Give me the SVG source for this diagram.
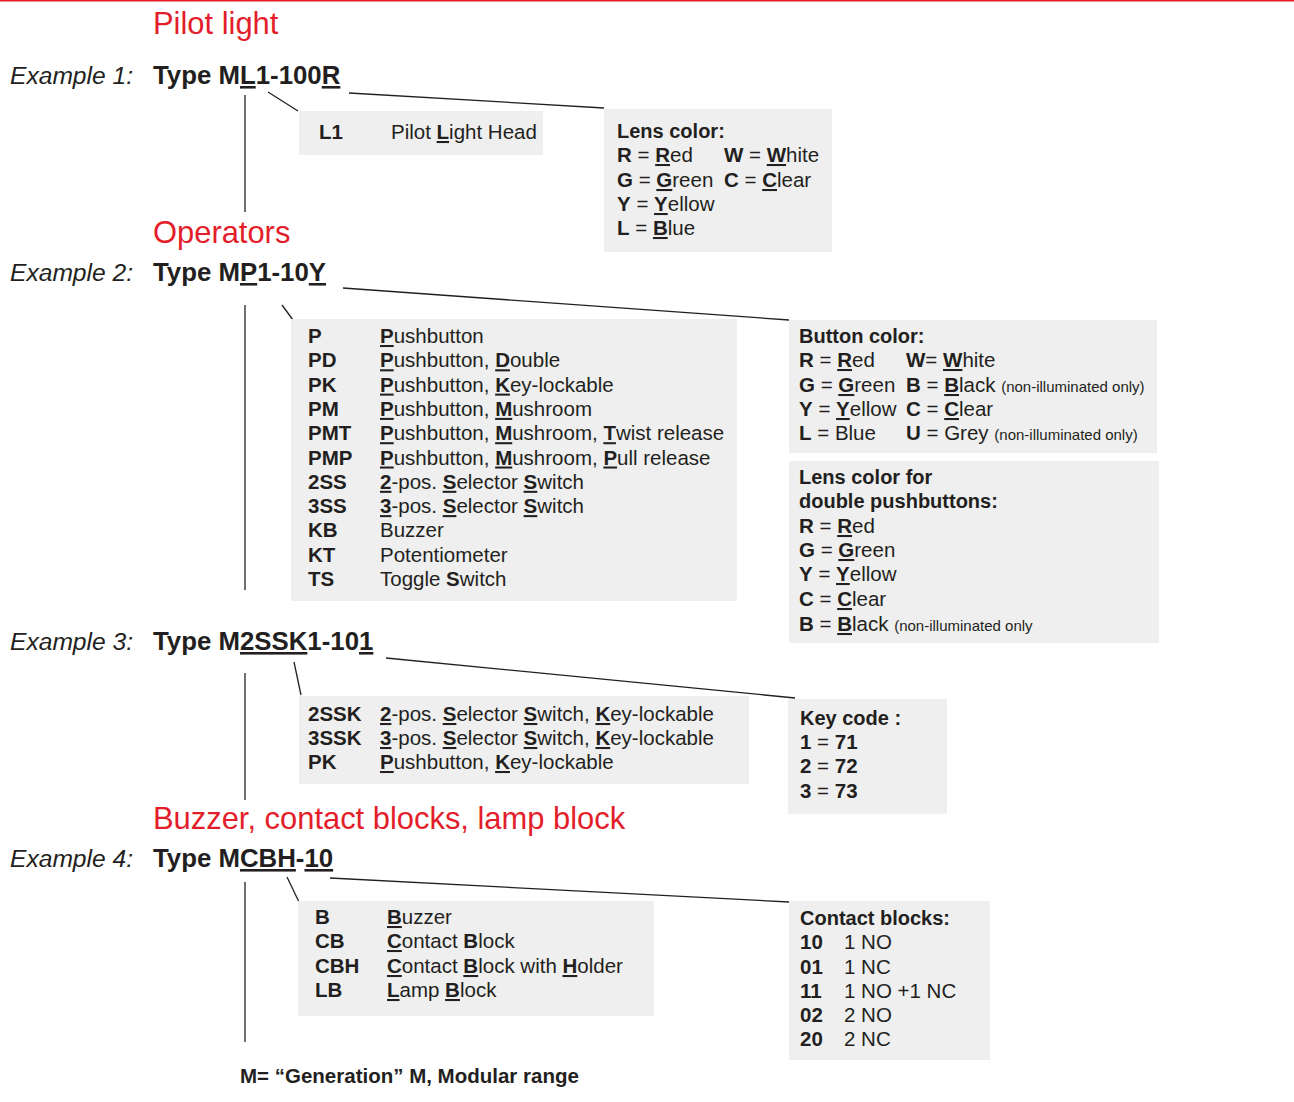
<svg xmlns="http://www.w3.org/2000/svg" width="1294" height="1102" viewBox="0 0 1294 1102">
<style>
text{font-family:"Liberation Sans",Arial,sans-serif;fill:#231f20}
.h{font-size:30.9px;fill:#e31e2a}
.ex{font-size:24.6px;font-style:italic}
.ty{font-size:25.8px;font-weight:bold}
.t{font-size:20.5px}
.f{font-size:20px;font-weight:bold}
.b{font-weight:bold}
.u{font-weight:bold;text-decoration:underline}
.uu{text-decoration:underline}
.s{font-size:15px;font-weight:normal}
.box{fill:#efefef}
.ln{stroke:#231f20;stroke-width:1.3;fill:none}
</style>
<rect x="0" y="0" width="1294" height="1.5" fill="#e31e2a"/>

<g id="connectors">
<line class="ln" x1="245" y1="95" x2="245" y2="212"/>
<line class="ln" x1="268" y1="92" x2="298" y2="111"/>
<polyline class="ln" points="349,93 604,108"/>
<line class="ln" x1="245" y1="305" x2="245" y2="590"/>
<line class="ln" x1="282" y1="305" x2="293" y2="320"/>
<line class="ln" x1="343" y1="288" x2="789" y2="320"/>
<line class="ln" x1="245" y1="673" x2="245" y2="800"/>
<line class="ln" x1="294" y1="662" x2="301" y2="695"/>
<line class="ln" x1="386" y1="658" x2="795" y2="698"/>
<line class="ln" x1="245" y1="882" x2="245" y2="1042"/>
<line class="ln" x1="287" y1="877" x2="299" y2="902"/>
<line class="ln" x1="330" y1="878" x2="789" y2="902"/>
</g>

<g id="pilot-light">
<text class="h" x="153" y="34">Pilot light</text>
<text class="ex" x="10" y="84">Example 1:</text>
<text class="ty" x="153" y="84">Type M<tspan class="uu">L</tspan>1-100<tspan class="uu">R</tspan></text>
</g>

<g id="pilot-light-head">
<rect class="box" x="299" y="111" width="244" height="44"/>
<text class="t" x="319" y="139"><tspan class="b">L1</tspan><tspan x="391">Pilot </tspan><tspan class="u">L</tspan>ight Head</text>
</g>

<g id="lens-color">
<rect class="box" x="604" y="109" width="228" height="143"/>
<text class="f" x="617" y="138">Lens color:</text>
<text class="t" x="617" y="162"><tspan class="b">R</tspan> = <tspan class="u">R</tspan>ed<tspan x="724" class="b">W</tspan> = <tspan class="u">W</tspan>hite</text>
<text class="t" x="617" y="187"><tspan class="b">G</tspan> = <tspan class="u">G</tspan>reen<tspan x="724" class="b">C</tspan> = <tspan class="u">C</tspan>lear</text>
<text class="t" x="617" y="211"><tspan class="b">Y</tspan> = <tspan class="u">Y</tspan>ellow</text>
<text class="t" x="617" y="235"><tspan class="b">L</tspan> = <tspan class="u">B</tspan>lue</text>
</g>

<g id="operators">
<text class="h" x="153" y="243">Operators</text>
<text class="ex" x="10" y="281">Example 2:</text>
<text class="ty" x="153" y="281">Type M<tspan class="uu">P</tspan>1-10<tspan class="uu">Y</tspan></text>
</g>

<g id="operator-types">
<rect class="box" x="291" y="319" width="446" height="282"/>
<text class="t" x="308" y="343"><tspan class="b">P</tspan><tspan x="380" class="u">P</tspan>ushbutton</text>
<text class="t" x="308" y="367.3"><tspan class="b">PD</tspan><tspan x="380" class="u">P</tspan>ushbutton, <tspan class="u">D</tspan>ouble</text>
<text class="t" x="308" y="391.6"><tspan class="b">PK</tspan><tspan x="380" class="u">P</tspan>ushbutton, <tspan class="u">K</tspan>ey-lockable</text>
<text class="t" x="308" y="415.9"><tspan class="b">PM</tspan><tspan x="380" class="u">P</tspan>ushbutton, <tspan class="u">M</tspan>ushroom</text>
<text class="t" x="308" y="440.2"><tspan class="b">PMT</tspan><tspan x="380" class="u">P</tspan>ushbutton, <tspan class="u">M</tspan>ushroom, <tspan class="u">T</tspan>wist release</text>
<text class="t" x="308" y="464.5"><tspan class="b">PMP</tspan><tspan x="380" class="u">P</tspan>ushbutton, <tspan class="u">M</tspan>ushroom, <tspan class="u">P</tspan>ull release</text>
<text class="t" x="308" y="488.8"><tspan class="b">2SS</tspan><tspan x="380" class="u">2</tspan>-pos. <tspan class="u">S</tspan>elector <tspan class="u">S</tspan>witch</text>
<text class="t" x="308" y="513.1"><tspan class="b">3SS</tspan><tspan x="380" class="u">3</tspan>-pos. <tspan class="u">S</tspan>elector <tspan class="u">S</tspan>witch</text>
<text class="t" x="308" y="537.4"><tspan class="b">KB</tspan><tspan x="380">Buzzer</tspan></text>
<text class="t" x="308" y="561.7"><tspan class="b">KT</tspan><tspan x="380">Potentiometer</tspan></text>
<text class="t" x="308" y="586"><tspan class="b">TS</tspan><tspan x="380">T</tspan>oggle <tspan class="b">S</tspan>witch</text>
</g>

<g id="button-color">
<rect class="box" x="789" y="320" width="368" height="133"/>
<text class="f" x="799" y="343">Button color:</text>
<text class="t" x="799" y="367"><tspan class="b">R</tspan> = <tspan class="u">R</tspan>ed<tspan x="906" class="b">W</tspan>= <tspan class="u">W</tspan>hite</text>
<text class="t" x="799" y="392"><tspan class="b">G</tspan> = <tspan class="u">G</tspan>reen<tspan x="906" class="b">B</tspan> = <tspan class="u">B</tspan>lack <tspan class="s">(non-illuminated only)</tspan></text>
<text class="t" x="799" y="416"><tspan class="b">Y</tspan> = <tspan class="u">Y</tspan>ellow<tspan x="906" class="b">C</tspan> = <tspan class="u">C</tspan>lear</text>
<text class="t" x="799" y="440"><tspan class="b">L</tspan> = Blue<tspan x="906" class="b">U</tspan> = Grey <tspan class="s">(non-illuminated only)</tspan></text>
</g>

<g id="lens-color-double">
<rect class="box" x="789" y="461" width="370" height="182"/>
<text class="f" x="799" y="484">Lens color for</text>
<text class="f" x="799" y="508">double pushbuttons:</text>
<text class="t" x="799" y="533"><tspan class="b">R</tspan> = <tspan class="u">R</tspan>ed</text>
<text class="t" x="799" y="557"><tspan class="b">G</tspan> = <tspan class="u">G</tspan>reen</text>
<text class="t" x="799" y="581"><tspan class="b">Y</tspan> = <tspan class="u">Y</tspan>ellow</text>
<text class="t" x="799" y="606"><tspan class="b">C</tspan> = <tspan class="u">C</tspan>lear</text>
<text class="t" x="799" y="631"><tspan class="b">B</tspan> = <tspan class="u">B</tspan>lack <tspan class="s">(non-illuminated only</tspan></text>
</g>

<g id="example-3">
<text class="ex" x="10" y="650">Example 3:</text>
<text class="ty" x="153" y="650">Type M<tspan class="uu">2SSK</tspan>1-10<tspan class="uu">1</tspan></text>
</g>

<g id="key-lockable-types">
<rect class="box" x="299" y="696" width="450" height="88"/>
<text class="t" x="308" y="721"><tspan class="b">2SSK</tspan><tspan x="380" class="u">2</tspan>-pos. <tspan class="u">S</tspan>elector <tspan class="u">S</tspan>witch, <tspan class="u">K</tspan>ey-lockable</text>
<text class="t" x="308" y="745"><tspan class="b">3SSK</tspan><tspan x="380" class="u">3</tspan>-pos. <tspan class="u">S</tspan>elector <tspan class="u">S</tspan>witch, <tspan class="u">K</tspan>ey-lockable</text>
<text class="t" x="308" y="769"><tspan class="b">PK</tspan><tspan x="380" class="u">P</tspan>ushbutton, <tspan class="u">K</tspan>ey-lockable</text>
</g>

<g id="key-code">
<rect class="box" x="788" y="699" width="159" height="115"/>
<text class="f" x="800" y="725">Key code :</text>
<text class="t" x="800" y="749"><tspan class="b">1</tspan> = <tspan class="b">71</tspan></text>
<text class="t" x="800" y="773"><tspan class="b">2</tspan> = <tspan class="b">72</tspan></text>
<text class="t" x="800" y="798"><tspan class="b">3</tspan> = <tspan class="b">73</tspan></text>
</g>

<g id="buzzer-blocks">
<text class="h" x="153" y="829">Buzzer, contact blocks, lamp block</text>
<text class="ex" x="10" y="867">Example 4:</text>
<text class="ty" x="153" y="867">Type M<tspan class="uu">CBH</tspan>-<tspan class="uu">10</tspan></text>
</g>

<g id="block-types">
<rect class="box" x="298" y="901" width="356" height="115"/>
<text class="t" x="315" y="924"><tspan class="b">B</tspan><tspan x="387" class="u">B</tspan>uzzer</text>
<text class="t" x="315" y="948"><tspan class="b">CB</tspan><tspan x="387" class="u">C</tspan>ontact <tspan class="b">B</tspan>lock</text>
<text class="t" x="315" y="973"><tspan class="b">CBH</tspan><tspan x="387" class="u">C</tspan>ontact <tspan class="u">B</tspan>lock with <tspan class="u">H</tspan>older</text>
<text class="t" x="315" y="997"><tspan class="b">LB</tspan><tspan x="387" class="u">L</tspan>amp <tspan class="u">B</tspan>lock</text>
</g>

<g id="contact-blocks">
<rect class="box" x="789" y="901" width="201" height="159"/>
<text class="f" x="800" y="925">Contact blocks:</text>
<text class="t" x="800" y="949"><tspan class="b">10</tspan><tspan x="844">1 NO</tspan></text>
<text class="t" x="800" y="974"><tspan class="b">01</tspan><tspan x="844">1 NC</tspan></text>
<text class="t" x="800" y="998"><tspan class="b">11</tspan><tspan x="844">1 NO +1 NC</tspan></text>
<text class="t" x="800" y="1022"><tspan class="b">02</tspan><tspan x="844">2 NO</tspan></text>
<text class="t" x="800" y="1046"><tspan class="b">20</tspan><tspan x="844">2 NC</tspan></text>
</g>

<g id="footnote">
<text x="240" y="1083" style="font-size:20.5px;font-weight:bold">M= “Generation” M, Modular range</text>
</g>
</svg>
